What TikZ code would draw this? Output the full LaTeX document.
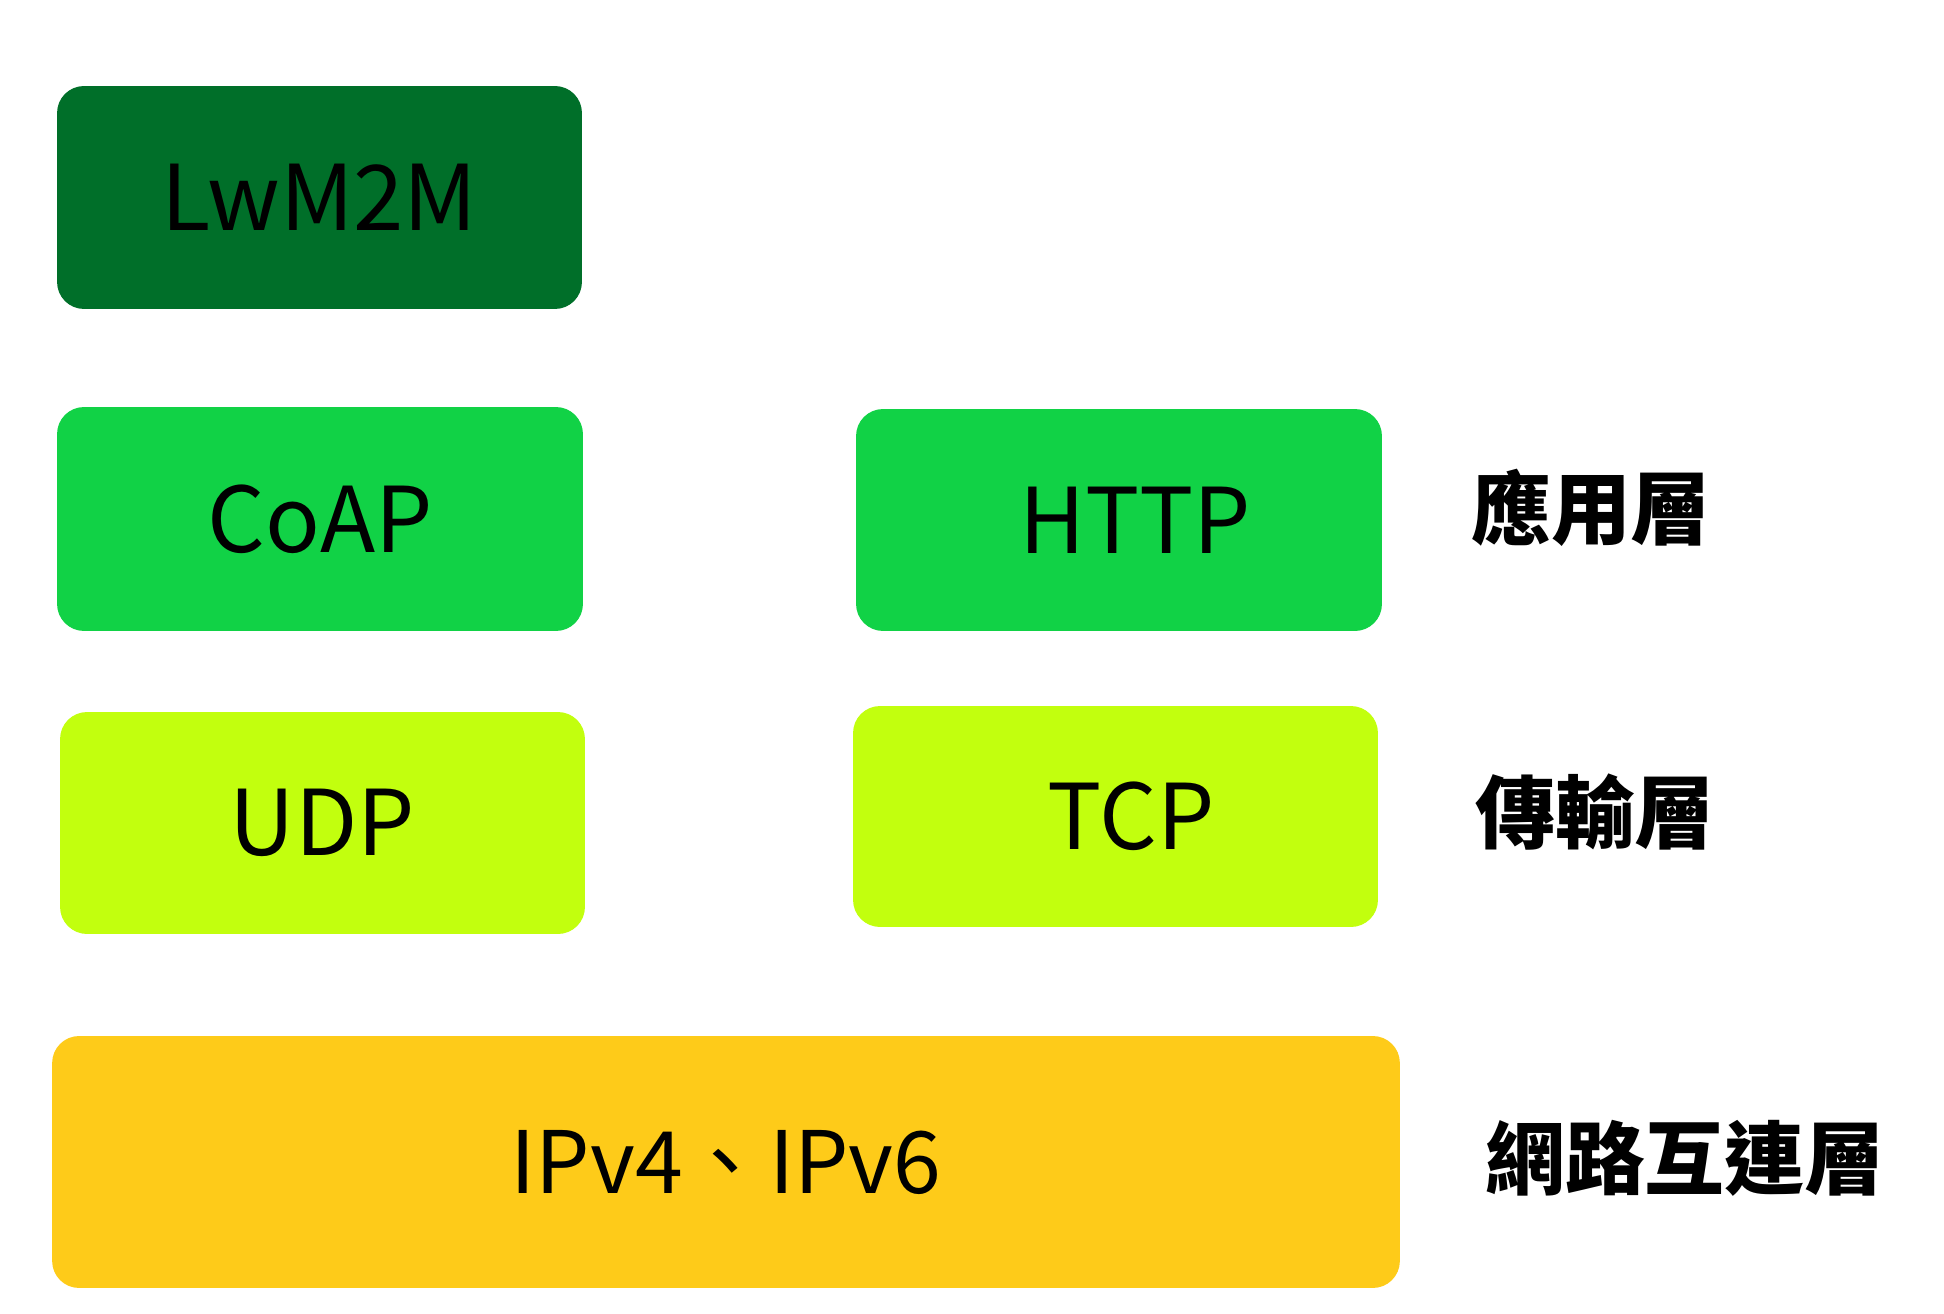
\documentclass[tikz,border=0pt]{standalone}
\usepackage{fontspec}
\setmainfont{Noto Sans CJK TC}
\definecolor{lwmGreen}{RGB}{0,111,41}
\definecolor{appGreen}{RGB}{17,210,70}
\definecolor{tranLime}{RGB}{194,255,14}
\definecolor{netYellow}{RGB}{254,203,25}
\newcommand{\shifted}[1]{\hspace*{0.64cm}\raisebox{-0.12cm}{#1}}
\tikzset{
  layerbox/.style={rectangle, rounded corners=0.54cm, inner sep=0pt,
    minimum width=10.5cm, minimum height=4.44cm, text=black,
    font=\fontsize{51.6}{60}\selectfont},
  layername/.style={anchor=west, inner sep=0pt, text=black,
    font=\fontsize{45.4}{54}\selectfont\bfseries}
}
\begin{document}
\begin{tikzpicture}[x=0.02cm,y=-0.02cm]
      \useasboundingbox (0,0) rectangle (1944,1314);
      \draw
        (319.5,197.5) node[layerbox, fill=lwmGreen, minimum height=4.46cm] (lwm2m){LwM2M}
        (320,519) node[layerbox, fill=appGreen, minimum width=10.52cm, minimum height=4.48cm] (coap){CoAP}
        (1119,520) node[layerbox, fill=appGreen, minimum width=10.52cm] (http){\shifted{HTTP}}
        (322.5,823) node[layerbox, fill=tranLime] (udp){\raisebox{-0.1cm}{UDP}}
        (1115.5,816.5) node[layerbox, fill=tranLime, minimum height=4.42cm] (tcp){\shifted{\raisebox{-0.06cm}{TCP}}}
        (726,1162) node[layerbox, fill=netYellow, minimum width=26.96cm, minimum height=5.04cm,
          font=\fontsize{49}{57}\selectfont] (ip){IPv4、IPv6};
      \draw
        (1471,508) node[layername] (app){應用層}
        (1475,812) node[layername] (tran){傳輸層}
        (1485,1158) node[layername] (net){網路互連層};
    \end{tikzpicture}
\end{document}
